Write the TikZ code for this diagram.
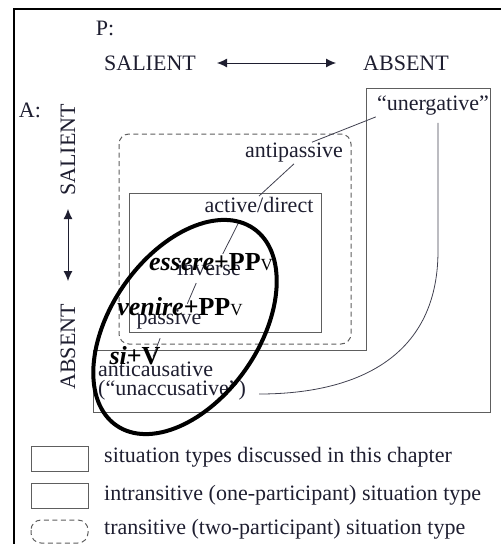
\documentclass[tikz,border=0pt]{standalone}
\usepackage{fontspec}
\setmainfont{Liberation Serif}
\usetikzlibrary{positioning,arrows.meta}

\definecolor{inkblue}{HTML}{1E1E30}
\definecolor{boxgray}{HTML}{5E5E5E}

\newcommand{\labfont}{\fontsize{22}{24}\selectfont}
\newcommand{\ovfont}{\fontsize{26}{28}\selectfont\bfseries}
\newcommand{\smallv}{{\fontsize{17}{17}\selectfont\mdseries V}}

\begin{document}
\begin{tikzpicture}[x=1pt,y=-1pt,
  lab/.style={inner sep=1pt,text=inkblue,font=\labfont},
  ovl/.style={inner sep=0pt,text=black,font=\ovfont},
  sitbox/.style={draw=boxgray,line width=1pt},
  transbox/.style={draw=boxgray,line width=1pt,dash pattern=on 5pt off 3.5pt,rounded corners=10pt},
  link/.style={draw=inkblue!85,line width=0.8pt},
  dbl/.style={{Latex[length=10pt,width=9pt]}-{Latex[length=10pt,width=9pt]},line width=0.9pt,draw=inkblue,fill=inkblue}]
  \path[use as bounding box,clip] (0,0) rectangle (501,544);

  % outer frame
  \draw[line width=2pt] (14,9) rectangle (530,570);

  % axes
  \node[lab] (plab) at (105,28) {P:};
  \node[lab] (psal) at (150,63) {SALIENT};
  \node[lab] (pabs) at (406,63) {ABSENT};
  \draw[dbl,shorten <=20pt,shorten >=26pt] (psal.east) -- (pabs.west);

  \node[lab] (alab) at (30,110) {A:};
  \node[lab,rotate=90] (asal) at (68,150) {SALIENT};
  \node[lab,rotate=90] (aabs) at (68,347) {ABSENT};
  \draw[dbl,shorten <=12pt,shorten >=22pt] (asal.west) -- (aabs.east);

  % situation type boxes
  \draw[sitbox] (366,88) -- (490,88) -- (490,412) -- (93,412) -- (93,350) -- (366,350) -- cycle;
  \draw[transbox] (119,134) rectangle (351,344);
  \draw[sitbox] (129,193) rectangle (321,332);

  \node[lab] (unerg) at (433,106) {“unergative”};
  \node[lab] (antip) at (294,153) {antipassive};
  \node[lab] (activ) at (259,205) {active/direct};
  \node[lab] (inver) at (209,268) {inverse};
  \node[lab] (passv) at (169,320) {passive};
  \node[lab,anchor=west] (antic) at (97,369) {anticausative};
  \node[lab,anchor=west] (unacc) at (97,390) {(“unaccusative”)};

  \draw[link] (unerg.south west) -- ([xshift=18pt]antip.north);
  \draw[link] (antip.south) -- (activ.north);
  \draw[link,shorten <=10pt,shorten >=6pt] ([xshift=-16pt]activ.south) -- ([xshift=11pt]inver.north);
  \draw[link,shorten <=7pt,shorten >=6pt] ([xshift=-10pt]inver.south) -- ([xshift=16pt]passv.north);
  \draw[link,shorten <=8pt,shorten >=4pt] ([xshift=-6pt]passv.south) -- ([xshift=-4pt]antic.north);
  \draw[link] ([xshift=5pt,yshift=-6pt]unerg.south) -- ++(0,128)
    .. controls +(0,110) and +(92,0) .. ([xshift=12pt,yshift=-4pt]unacc.east);

  % overlay
  \draw[line width=4pt] (185,327) ellipse [x radius=120,y radius=74,rotate=55];
  \node[ovl] (esse) at (211,262) {\textit{essere}+PP\smallv};
  \node[ovl] (veni) at (180,307) {\textit{venire}+PP\smallv};
  \node[ovl] (siv) at (135,356) {\textit{si}+V};

  % legend
  \draw[sitbox] (31,446) rectangle (88,471);
  \draw[sitbox] (31,483) rectangle (88,508);
  \draw[transbox] (31,520) rectangle (88,543);
  \node[lab,anchor=west] (leg1) at (103,457) {situation types discussed in this chapter};
  \node[lab,anchor=west] (leg2) at (103,495) {intransitive (one-participant) situation type};
  \node[lab,anchor=west] (leg3) at (103,529) {transitive (two-participant) situation type};
\end{tikzpicture}
\end{document}
